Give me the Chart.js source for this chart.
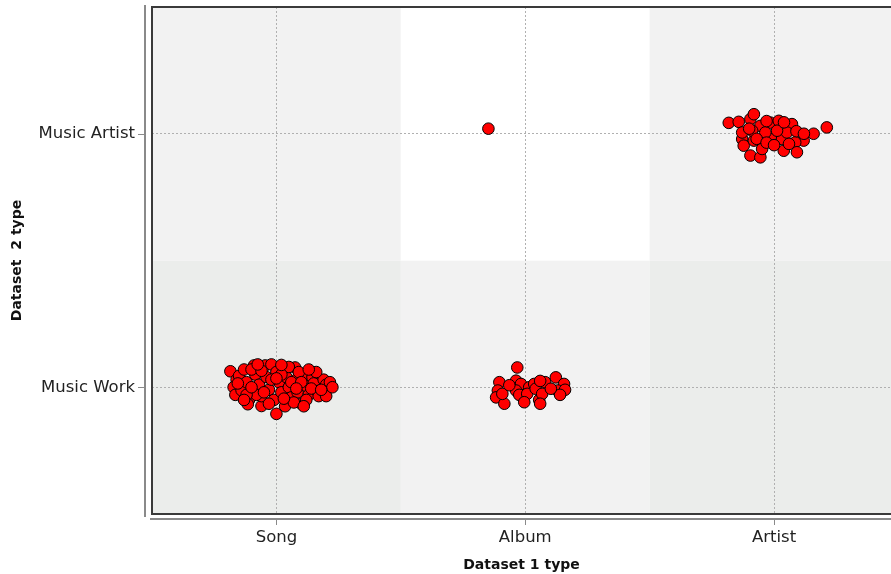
<!DOCTYPE html>
<html>
<head>
<meta charset="utf-8">
<script src="https://cdn.jsdelivr.net/npm/chart.js@4/dist/chart.umd.min.js"></script>
<style>
  html, body { margin: 0; padding: 0; background: #ffffff; }
  #wrap { width: 891px; height: 574px; position: relative; }
</style>
</head>
<body>
<div id="wrap"><canvas id="c" width="891" height="574"></canvas></div>
<script>
// Categories
const xCategories = ['Song', 'Album', 'Artist'];
const yCategories = ['Music Work', 'Music Artist'];
const xTitle = 'Dataset 1 type';
const yTitle = 'Dataset  2 type';

// Jittered points per cell: [x offset, y offset] around the category index
const songWork = [
  [-0.185,0.063],[-0.16,0.03],[-0.172,0.0],[-0.165,-0.03],[-0.15,0.045],[-0.14,-0.012],
  [-0.12,0.02],[-0.11,-0.05],[-0.115,-0.067],[-0.09,0.086],[-0.085,0.05],[-0.07,0.01],
  [-0.06,-0.074],[-0.06,-0.035],[-0.045,0.086],[-0.04,0.04],[-0.03,-0.01],[-0.02,0.09],
  [-0.01,-0.05],[0.0,0.06],[0.0,-0.105],[0.01,0.02],[0.02,-0.02],[0.03,0.075],
  [0.035,-0.075],[0.04,0.04],[0.05,0.0],[0.06,-0.04],[0.075,0.078],[0.08,0.03],
  [0.085,-0.02],[0.1,-0.065],[0.11,0.05],[0.12,0.005],[0.13,-0.03],[0.145,0.04],
  [0.15,0.015],[0.165,-0.015],[0.17,-0.035],[0.19,0.03],[0.2,-0.035],[0.2,0.01],
  [0.215,0.02],[0.225,0.0],[-0.13,0.07],[-0.1,0.07],[0.05,0.08],[0.09,0.06],
  [-0.08,-0.03],[-0.05,-0.02],[-0.02,0.03],[0.02,0.05],[0.06,0.02],[0.1,0.02],
  [0.14,-0.005],[-0.03,-0.065],[0.07,-0.06],[0.12,-0.05],[-0.12,-0.03],[-0.155,0.015],
  [0.18,-0.01],[0.16,0.06],[-0.06,0.065],[0.0,0.035],[0.03,-0.045],[-0.1,0.0],
  [0.08,-0.005],[0.13,0.07],[-0.075,0.09],[0.02,0.088],[0.11,-0.075],[-0.13,-0.05]
];
const albumWork = [
  [-0.032,0.078],[-0.104,0.02],[-0.11,-0.013],[-0.117,-0.04],[-0.084,-0.065],[-0.092,-0.026],
  [-0.037,0.026],[-0.017,0.013],[-0.037,-0.013],[-0.024,-0.03],[0.016,0.0],[0.008,-0.026],
  [0.036,0.013],[0.042,-0.006],[0.056,-0.05],[0.068,-0.026],[0.08,0.02],[0.06,-0.065],
  [0.123,0.039],[0.156,0.013],[0.13,-0.013],[0.16,-0.01],[0.14,-0.03],[0.103,-0.006],
  [0.06,0.025],[-0.004,-0.059],[-0.064,0.008]
];
const albumArtist = [
  [-0.148,0.02]
];
const artistArtist = [
  [-0.182,0.043],[-0.142,0.047],[-0.095,0.058],[-0.081,0.077],[0.212,0.025],[0.159,0.0],
  [0.119,-0.027],[0.085,-0.034],[0.092,-0.073],[0.039,-0.067],[-0.095,-0.086],[-0.055,-0.093],
  [-0.048,-0.06],[-0.128,-0.021],[-0.122,-0.047],[-0.128,0.005],[-0.081,-0.027],[-0.055,0.031],
  [-0.015,0.044],[0.019,0.051],[0.072,0.038],[-0.008,-0.021],[0.032,-0.021],[0.052,0.005],
  [0.012,0.012],[-0.035,0.005],[-0.088,0.012],[0.09,0.01],[0.12,0.0],[-0.07,-0.02],
  [-0.03,-0.035],[0.0,-0.045],[0.06,-0.04],[-0.1,0.02],[-0.03,0.05],[0.04,0.045]
];

const cells = [
  { xi: 0, yi: 0, pts: songWork },
  { xi: 1, yi: 0, pts: albumWork },
  { xi: 1, yi: 1, pts: albumArtist },
  { xi: 2, yi: 1, pts: artistArtist }
];

const points = [];
cells.forEach(c => c.pts.forEach(p => points.push({ x: c.xi + p[0], y: c.yi + p[1] })));

// Cell shading [yIndex][xIndex]
const cellColors = [
  ['#ebedeb', '#f2f2f2', '#ebedeb'],
  ['#f2f2f2', '#ffffff', '#f2f2f2']
];

const decor = {
  id: 'decor',
  beforeDraw(chart) {
    const { ctx, chartArea: a, scales: { x, y } } = chart;
    ctx.save();
    for (let yi = 0; yi < yCategories.length; yi++) {
      for (let xi = 0; xi < xCategories.length; xi++) {
        const l = Math.max(a.left, x.getPixelForValue(xi - 0.5));
        const r = Math.min(a.right, x.getPixelForValue(xi + 0.5));
        const t = Math.max(a.top, y.getPixelForValue(yi + 0.5));
        const b = Math.min(a.bottom, y.getPixelForValue(yi - 0.5));
        ctx.fillStyle = cellColors[yi][xi];
        ctx.fillRect(l, t, r - l, b - t);
      }
    }
    ctx.restore();
  },
  afterDraw(chart) {
    const { ctx, chartArea: a, scales: { x, y } } = chart;
    ctx.save();
    // plot border
    ctx.strokeStyle = '#3a3a3a';
    ctx.lineWidth = 2;
    ctx.beginPath();
    ctx.moveTo(a.right + 2, a.top);
    ctx.lineTo(a.left, a.top);
    ctx.lineTo(a.left, a.bottom);
    ctx.lineTo(a.right + 2, a.bottom);
    ctx.stroke();
    // offset axis lines
    ctx.strokeStyle = '#8a8a8a';
    ctx.lineWidth = 2;
    ctx.beginPath();
    ctx.moveTo(a.left - 7, a.top - 2);
    ctx.lineTo(a.left - 7, a.bottom + 3);
    ctx.moveTo(a.left - 2, a.bottom + 5);
    ctx.lineTo(a.right + 2, a.bottom + 5);
    ctx.stroke();
    // tick marks
    ctx.lineWidth = 1;
    ctx.strokeStyle = '#8a8a8a';
    ctx.beginPath();
    for (let i = 0; i < yCategories.length; i++) {
      const py = Math.round(y.getPixelForValue(i)) + 0.5;
      ctx.moveTo(a.left - 14, py);
      ctx.lineTo(a.left - 8, py);
    }
    for (let i = 0; i < xCategories.length; i++) {
      const px = Math.round(x.getPixelForValue(i)) + 0.5;
      ctx.moveTo(px, a.bottom + 6);
      ctx.lineTo(px, a.bottom + 11);
    }
    ctx.stroke();
    ctx.restore();
  }
};

new Chart(document.getElementById('c'), {
  type: 'scatter',
  data: {
    datasets: [{
      data: points,
      pointRadius: 5.8,
      pointHoverRadius: 5.8,
      pointBackgroundColor: '#ff0000',
      pointBorderColor: '#000000',
      pointBorderWidth: 1
    }]
  },
  options: {
    responsive: false,
    animation: false,
    events: [],
    layout: { autoPadding: false, padding: { top: 7, right: 0, left: 0, bottom: 0 } },
    plugins: { legend: { display: false }, tooltip: { enabled: false } },
    scales: {
      x: {
        type: 'linear',
        min: -0.5,
        max: 2.47,
        afterBuildTicks: s => { s.ticks = xCategories.map((_, i) => ({ value: i })); },
        afterFit: s => { s.height = 60; s.paddingLeft = 0; s.paddingRight = 0; },
        ticks: {
          callback: v => xCategories[v],
          font: { family: 'DejaVu Sans', size: 16.5 },
          color: '#222222',
          padding: 14,
          maxRotation: 0
        },
        grid: { color: '#b0b0b0', drawTicks: false, lineWidth: 1 },
        border: { display: false, dash: [2, 2] },
        title: {
          display: true,
          text: xTitle,
          font: { family: 'DejaVu Sans', size: 14, weight: 'bold' },
          color: '#111111',
          padding: { top: 2.6, bottom: 0 }
        }
      },
      y: {
        type: 'linear',
        min: -0.5,
        max: 1.5,
        afterBuildTicks: s => { s.ticks = yCategories.map((_, i) => ({ value: i })); },
        afterFit: s => { s.width = 152; s.paddingTop = 0; s.paddingBottom = 0; },
        ticks: {
          callback: v => yCategories[v],
          font: { family: 'DejaVu Sans', size: 16.5 },
          color: '#222222',
          padding: 17
        },
        grid: { color: '#b0b0b0', drawTicks: false, lineWidth: 1 },
        border: { display: false, dash: [2, 2] },
        title: {
          display: true,
          text: yTitle,
          font: { family: 'DejaVu Sans', size: 14, weight: 'bold' },
          color: '#111111',
          padding: { top: 8.6, bottom: 0 }
        }
      }
    }
  },
  plugins: [decor]
});
</script>
</body>
</html>
